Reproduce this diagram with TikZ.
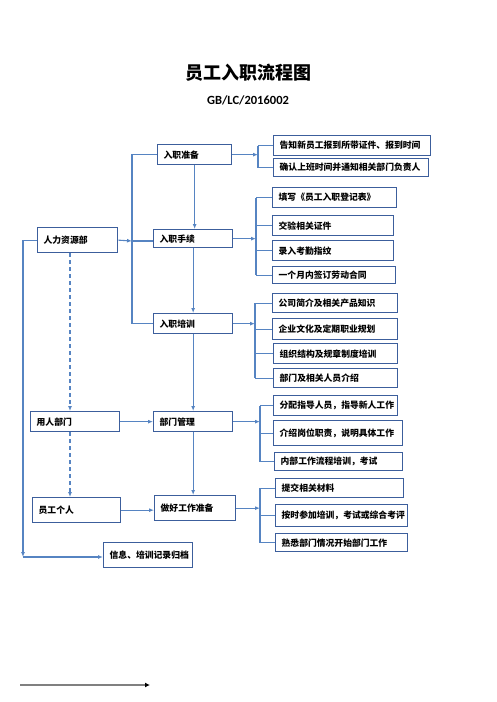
\documentclass[tikz,border=0pt]{standalone}
\usepackage{fontspec}
\setmainfont{Carlito}
\newfontfamily\cjk{Noto Sans CJK SC}
\usetikzlibrary{arrows.meta}
\definecolor{boxblue}{RGB}{60,94,156}
\definecolor{lineblue}{RGB}{86,132,194}

\begin{document}
\begin{tikzpicture}[x=1pt,y=-1pt,
    box/.style={draw=boxblue,line width=1.3pt,fill=white,anchor=north west,inner xsep=6pt,inner ysep=0pt,
        align=left,font=\cjk\bfseries\fontsize{8.8}{10}\selectfont},
    link/.style={draw=lineblue,line width=1.1pt},
    dlink/.style={link,dashed,dash pattern=on 4pt off 3pt},
    >={Latex[length=5pt,width=4pt]}]
    \useasboundingbox (0,0) rectangle (496,702);

    % title
    \node[font=\cjk\bfseries\fontsize{18}{20}\selectfont] (title) at (248,73) {员工入职流程图};
    \node[font=\bfseries\fontsize{12.5}{14}\selectfont] (code) at (248,100) {GB/LC/2016002};

    % boxes: name/left/top/right/bottom/text
    \foreach \n/\xa/\ya/\xb/\yb/\t in {
        prep/157/144/231/164/入职准备, proc/153/229/232/247/入职手续,
        train/153/313/232/333/入职培训, mgmt/153/411/232/431/部门管理,
        ready/154/495/235/520/做好工作准备,
        hr/37/227/117/252/人力资源部, dept/30/411/119/431/用人部门,
        staff/32/497/120/522/员工个人, archive/103/542/192/567/信息、培训记录归档,
        a1/273/135/430/155/告知新员工报到所带证件、报到时间,
        a2/273/158/428/176/确认上班时间并通知相关部门负责人,
        b1/272/187/396/207/填写《员工入职登记表》,
        b2/272/215/393/235/交验相关证件,
        b3/272/240/393/260/录入考勤指纹,
        b4/272/266/395/283/一个月内签订劳动合同,
        c1/272/293/397/312/公司简介及相关产品知识,
        c2/272/318/397/339/企业文化及定期职业规划,
        c3/273/343/397/363/组织结构及规章制度培训,
        c4/273/368/397/387/部门及相关人员介绍,
        d1/273/395/397/415/分配指导人员，指导新人工作,
        d2/273/420/402/445/介绍岗位职责，说明具体工作,
        d3/274/452/402/470/内部工作流程培训，考试,
        e1/275/478/403/497/提交相关材料,
        e2/275/504/407/526/按时参加培训，考试或综合考评,
        e3/275/533/407/551/熟悉部门情况开始部门工作} {
        \pgfmathsetmacro\tw{\xb-\xa-12}
        \pgfmathsetmacro\h{\yb-\ya}
        \node[box,text width=\tw pt,minimum height=\h pt] (\n) at (\xa,\ya) {\t};
    }

    % bus points
    \coordinate (lbus) at (132,241);
    \coordinate (dash) at (70,0);
    \coordinate (lcorner) at (23,557);
    \coordinate (busa) at (258,0);
    \coordinate (busb) at (256,0);
    \coordinate (busc) at (255,0);
    \coordinate (busd) at (260,0);
    \coordinate (buse) at (260,0);

    % main column
    \draw[link,->] (prep.south) -- (prep.south |- proc.north);
    \draw[link,->] (proc.south) -- (proc.south |- train.north);
    \draw[link,->] (train.south) -- (train.south |- mgmt.north);
    \draw[link,->] (mgmt.south) -- (mgmt.south |- ready.north);

    % hr to the first steps
    \draw[link,->] (hr.east) -- (lbus);
    \draw[link] (lbus) -- (lbus -| proc.west);
    \draw[link] (prep.west) -| (lbus) |- (train.west);

    % left side
    \draw[dlink,->] (hr.south -| dash) -- (dept.north -| dash);
    \draw[dlink,->] (dept.south -| dash) -- (staff.north -| dash);
    \draw[link,->] (dept.east) -- (dept.east -| mgmt.west);
    \draw[link,->] (staff.east) -- (staff.east -| ready.west);
    \draw[link,->] (hr.west) -- (hr.west -| lcorner) -- (lcorner);
    \draw[link,->] (lcorner) -- (lcorner -| archive.west);

    % branches to the right
    \foreach \m/\b/\first/\last/\list in {prep/busa/a1/a2/{a1,a2}, proc/busb/b1/b4/{b1,b2,b3,b4},
        train/busc/c1/c4/{c1,c2,c3,c4}, mgmt/busd/d1/d3/{d1,d2,d3}, ready/buse/e1/e3/{e1,e2,e3}} {
        \draw[link,->] (\m.east) -- (\m.east -| \b);
        \draw[link] (\first.west -| \b) -- (\last.west -| \b);
        \foreach \c in \list {
            \draw[link] (\c.west -| \b) -- (\c.west);
        }
    }

    % arrow at the foot
    \coordinate (tail) at (20,685);
    \coordinate (head) at (150,685);
    \draw[gray,line width=1.3pt,-{Latex[length=5pt,width=5pt,color=black]}] (tail) -- (head);
\end{tikzpicture}
\end{document}
